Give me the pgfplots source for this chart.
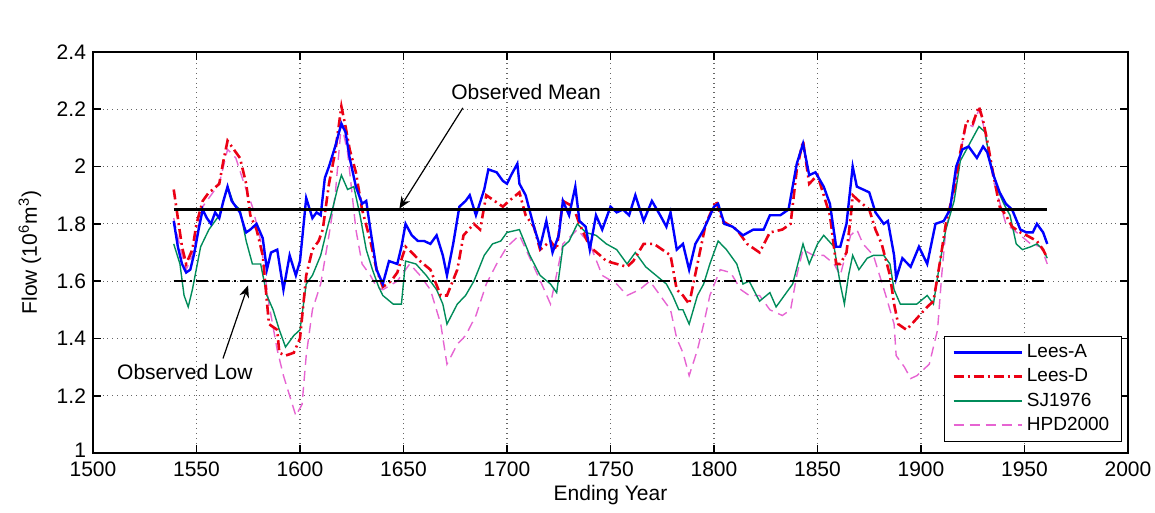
\documentclass[border=0pt]{standalone}
\usepackage{pgfplots}
\pgfplotsset{compat=1.18}
\usepackage{pgfplotstable}
\usepackage{fontspec}
\setmainfont{Liberation Sans}
\usetikzlibrary{arrows.meta}
\definecolor{cA}{RGB}{0,0,255}
\definecolor{cD}{RGB}{235,0,20}
\definecolor{cS}{RGB}{0,140,90}
\definecolor{cH}{RGB}{230,100,210}

\pgfplotstableread{
year val
1539 1.81
1541 1.72
1543 1.66
1545 1.63
1547 1.64
1549 1.70
1551 1.78
1553 1.85
1555 1.82
1557 1.80
1559 1.84
1561 1.82
1563 1.88
1565 1.93
1567 1.88
1569 1.86
1571 1.84
1573 1.79
1574 1.77
1576 1.78
1579 1.80
1582 1.75
1584 1.64
1586 1.70
1589 1.71
1592 1.57
1595 1.69
1598 1.62
1600 1.67
1603 1.89
1606 1.82
1608 1.84
1610 1.83
1612 1.96
1614 2.00
1617 2.07
1620 2.15
1622 2.12
1624 2.03
1627 1.93
1630 1.87
1632 1.88
1634 1.78
1637 1.64
1640 1.59
1643 1.67
1647 1.66
1649 1.72
1651 1.80
1654 1.76
1657 1.74
1660 1.74
1663 1.73
1666 1.76
1669 1.69
1671 1.62
1674 1.73
1677 1.86
1680 1.88
1682 1.90
1685 1.83
1689 1.92
1691 1.99
1695 1.98
1698 1.95
1700 1.94
1702 1.97
1705 2.01
1706 1.94
1709 1.90
1713 1.79
1716 1.72
1719 1.81
1722 1.70
1725 1.76
1727 1.88
1730 1.83
1733 1.93
1735 1.81
1738 1.79
1740 1.71
1743 1.83
1746 1.78
1750 1.86
1753 1.84
1756 1.85
1759 1.83
1762 1.90
1766 1.81
1770 1.88
1774 1.83
1777 1.79
1779 1.84
1782 1.71
1785 1.73
1788 1.64
1791 1.73
1795 1.78
1800 1.86
1802 1.87
1805 1.80
1809 1.79
1814 1.76
1819 1.78
1824 1.78
1827 1.83
1832 1.83
1836 1.85
1840 2.01
1843 2.08
1846 1.97
1849 1.98
1853 1.93
1856 1.87
1859 1.72
1861 1.72
1864 1.80
1867 2.00
1869 1.93
1872 1.92
1875 1.91
1878 1.84
1882 1.80
1884 1.81
1887 1.69
1888 1.61
1891 1.68
1895 1.65
1899 1.72
1903 1.66
1907 1.80
1911 1.81
1914 1.85
1917 2.00
1920 2.06
1923 2.07
1927 2.03
1930 2.07
1932 2.05
1935 1.97
1938 1.91
1941 1.87
1944 1.85
1948 1.78
1951 1.77
1954 1.77
1956 1.80
1959 1.77
1961 1.73
}\leesA

\pgfplotstableread{
year val
1539 1.92
1541 1.82
1543 1.72
1545 1.66
1548 1.71
1550 1.80
1553 1.88
1556 1.91
1558 1.92
1561 1.94
1563 2.02
1565 2.09
1568 2.06
1571 2.03
1574 1.94
1576 1.83
1579 1.78
1582 1.69
1585 1.45
1589 1.43
1590 1.35
1593 1.34
1597 1.35
1600 1.40
1603 1.62
1606 1.71
1609 1.74
1611 1.78
1614 1.94
1617 2.05
1620 2.21
1622 2.14
1624 2.06
1627 1.98
1630 1.85
1634 1.74
1637 1.64
1640 1.58
1644 1.60
1647 1.63
1651 1.72
1654 1.70
1658 1.67
1663 1.64
1668 1.55
1671 1.55
1676 1.64
1679 1.76
1684 1.80
1687 1.78
1690 1.90
1694 1.88
1698 1.86
1701 1.88
1706 1.91
1709 1.83
1713 1.79
1716 1.71
1721 1.74
1724 1.71
1727 1.88
1732 1.86
1735 1.80
1740 1.72
1745 1.69
1748 1.67
1753 1.66
1758 1.65
1761 1.67
1766 1.73
1771 1.73
1775 1.71
1779 1.69
1782 1.57
1785 1.55
1788 1.52
1792 1.66
1796 1.80
1801 1.88
1804 1.81
1811 1.78
1816 1.73
1822 1.70
1827 1.77
1833 1.78
1837 1.80
1840 1.99
1843 2.09
1846 1.94
1850 1.97
1856 1.83
1859 1.66
1861 1.66
1864 1.70
1866 1.82
1867 1.90
1870 1.88
1875 1.85
1878 1.78
1881 1.73
1885 1.62
1887 1.52
1889 1.45
1893 1.43
1898 1.47
1903 1.51
1906 1.53
1909 1.66
1912 1.80
1916 1.92
1919 2.05
1922 2.16
1925 2.15
1928 2.21
1930 2.16
1932 2.09
1935 1.97
1938 1.86
1941 1.83
1944 1.79
1948 1.77
1951 1.76
1956 1.74
1959 1.71
1961 1.68
}\leesD

\pgfplotstableread{
year val
1539 1.73
1542 1.66
1544 1.55
1546 1.51
1548 1.57
1552 1.72
1556 1.78
1561 1.83
1563 1.88
1565 1.93
1568 1.87
1571 1.85
1574 1.74
1577 1.66
1581 1.66
1584 1.55
1587 1.50
1590 1.43
1593 1.37
1597 1.41
1600 1.43
1603 1.59
1606 1.62
1610 1.69
1613 1.78
1616 1.86
1618 1.92
1620 1.97
1623 1.92
1626 1.93
1629 1.83
1632 1.71
1635 1.64
1638 1.58
1640 1.55
1645 1.52
1649 1.52
1651 1.67
1656 1.66
1661 1.62
1666 1.57
1669 1.52
1671 1.45
1676 1.52
1680 1.55
1684 1.60
1689 1.69
1693 1.73
1697 1.74
1700 1.77
1706 1.78
1711 1.69
1716 1.62
1721 1.59
1724 1.56
1727 1.72
1730 1.74
1734 1.80
1738 1.77
1743 1.76
1748 1.73
1753 1.71
1758 1.66
1762 1.70
1767 1.65
1772 1.62
1777 1.59
1780 1.55
1783 1.50
1785 1.50
1788 1.45
1792 1.55
1795 1.59
1798 1.66
1802 1.74
1806 1.71
1811 1.66
1814 1.59
1817 1.60
1822 1.53
1827 1.56
1830 1.51
1835 1.56
1838 1.59
1843 1.73
1846 1.66
1850 1.73
1853 1.76
1858 1.72
1861 1.59
1863 1.52
1865 1.62
1867 1.69
1870 1.64
1874 1.68
1877 1.69
1882 1.69
1885 1.66
1887 1.57
1890 1.52
1893 1.52
1898 1.52
1903 1.55
1906 1.52
1909 1.66
1912 1.78
1916 1.88
1919 2.02
1922 2.06
1925 2.10
1928 2.14
1931 2.12
1933 2.03
1937 1.92
1940 1.87
1943 1.83
1946 1.73
1949 1.71
1953 1.72
1956 1.73
1959 1.71
1961 1.68
}\sjts

\pgfplotstableread{
year val
1539 1.82
1542 1.72
1545 1.64
1548 1.69
1553 1.86
1557 1.90
1561 1.94
1565 2.06
1569 2.03
1573 1.94
1577 1.86
1581 1.74
1585 1.52
1589 1.36
1592 1.27
1595 1.20
1598 1.13
1601 1.17
1603 1.34
1606 1.50
1610 1.59
1614 1.76
1617 1.90
1620 2.15
1623 2.05
1627 1.78
1630 1.66
1634 1.62
1637 1.58
1640 1.57
1647 1.60
1653 1.66
1658 1.62
1663 1.57
1668 1.45
1671 1.31
1676 1.38
1680 1.41
1685 1.48
1690 1.59
1695 1.66
1700 1.72
1706 1.76
1713 1.65
1718 1.57
1721 1.52
1727 1.73
1734 1.78
1740 1.73
1746 1.62
1753 1.59
1758 1.55
1764 1.57
1769 1.60
1774 1.55
1779 1.50
1782 1.40
1785 1.35
1788 1.27
1792 1.36
1795 1.45
1798 1.55
1803 1.64
1808 1.63
1813 1.57
1817 1.55
1822 1.55
1827 1.50
1833 1.48
1837 1.50
1840 1.62
1843 1.71
1848 1.69
1853 1.69
1858 1.66
1861 1.62
1866 1.76
1869 1.78
1872 1.73
1877 1.69
1880 1.62
1883 1.55
1887 1.45
1888 1.34
1892 1.30
1895 1.26
1898 1.27
1901 1.29
1904 1.31
1908 1.43
1910 1.62
1912 1.78
1916 1.92
1919 2.05
1922 2.15
1925 2.14
1928 2.20
1930 2.15
1932 2.07
1935 1.95
1941 1.80
1948 1.76
1953 1.73
1958 1.72
1961 1.66
}\hpd

\begin{document}
\begin{tikzpicture}
\useasboundingbox (-46.5pt,-30pt) rectangle (531pt,226.5pt);
\begin{axis}[
  scale only axis,
  width=517.5pt, height=200.5pt,
  xmin=1500, xmax=2000, ymin=1, ymax=2.4,
  xtick={1500,1550,...,2000},
  ytick={1,1.2,1.4,1.6,1.8,2,2.2,2.4},
  yticklabels={\raisebox{3pt}{1},1.2,1.4,1.6,1.8,2,2.2,2.4},
  xticklabels={1500,1550,1600,1650,1700,1750,1800,1850,1900,1950,2000},
  xticklabel style={yshift=-1pt},
  font=\fontsize{10.5}{12}\selectfont,
  tick align=inside,
  major tick length=4pt,
  every tick/.style={black, line width=0.8pt},
  axis line style={line width=0.8pt},
  grid=major,
  major grid style={dotted, black!60, line width=0.6pt},
  every axis x label/.style={at={(axis description cs:0.5,-0.105)}, anchor=center},
  every axis y label/.style={at={(axis description cs:-0.061,0.5)}, rotate=90, anchor=center},
  xlabel={Ending Year},
  ylabel={Flow (10\textsuperscript{6}m\textsuperscript{3})},
  legend style={at={(rel axis cs:1,0)}, anchor=south east, xshift=-3pt, yshift=5.5pt,
    draw=black, line width=0.7pt, font=\fontsize{9.5}{11}\selectfont,
    inner xsep=4pt, inner ysep=2pt, row sep=0pt},
  legend cell align=left,
  legend image code/.code={\draw[#1] (0pt,0pt) -- (34pt,0pt);},
  reverse legend,
]
\addplot[cH, line width=0.7pt, dash pattern=on 5pt off 3pt] table[x=year,y=val] {\hpd};
\addlegendentry{HPD2000}
\addplot[cS, line width=0.7pt] table[x=year,y=val] {\sjts};
\addlegendentry{SJ1976}
\addplot[cD, line width=1.3pt, dash pattern=on 5pt off 2pt on 1pt off 2pt] table[x=year,y=val] {\leesD};
\addlegendentry{Lees-D}
\addplot[cA, line width=1.2pt] table[x=year,y=val] {\leesA};
\addlegendentry{Lees-A}
\addplot[black, line width=1.1pt, forget plot] coordinates {(1539,1.85) (1961,1.85)};
\addplot[black, line width=1.0pt, dash pattern=on 6pt off 2pt on 1pt off 2pt, forget plot] coordinates {(1539,1.6) (1961,1.6)};
\draw[-{Stealth[length=6pt,width=5pt]}, line width=0.6pt] (axis cs:1678.7,2.205) -- (axis cs:1648,1.853);
\draw[-{Stealth[length=6pt,width=5pt]}, line width=0.6pt] (axis cs:1562.8,1.33) -- (axis cs:1574.9,1.585);
\node[font=\fontsize{10.5}{12}\selectfont] at (axis cs:1709.2,2.262) {Observed Mean};
\node[font=\fontsize{10.5}{12}\selectfont] at (axis cs:1544.4,1.283) {Observed Low};
\node[anchor=base west, font=\fontsize{10.5}{12}\selectfont, inner sep=0pt] at ([yshift=5pt]rel axis cs:0,1) {x 10\textsuperscript{4}};
\end{axis}
\end{tikzpicture}
\end{document}
